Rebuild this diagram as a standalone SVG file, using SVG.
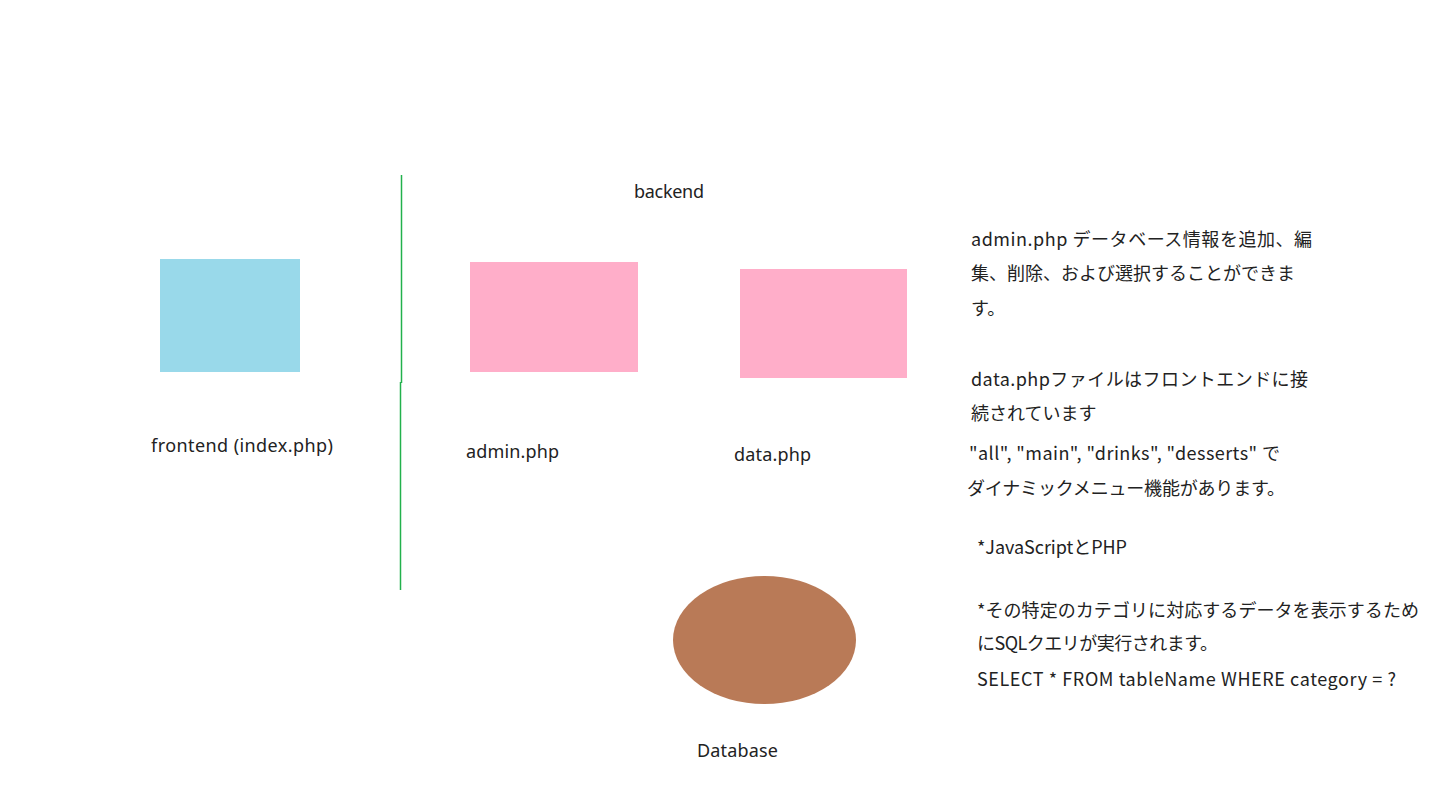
<svg xmlns="http://www.w3.org/2000/svg" width="1435" height="793" viewBox="0 0 1435 793">
<style>
text{font-family:"Noto Sans CJK JP","Noto Sans",sans-serif;font-size:18px;fill:#222}
.lbl{font-family:"Noto Sans","Noto Sans CJK JP",sans-serif}
.div{stroke:#22b14c;stroke-width:1.5;fill:none}
</style>
<rect width="1435" height="793" fill="#fff"/>
<g id="divider">
<line class="div" x1="401.5" y1="175" x2="401.5" y2="383"/>
<line class="div" x1="400.5" y1="382" x2="400.5" y2="590"/>
</g>
<g id="connectors"></g>
<g id="backend-label"><text class="lbl" x="634" y="198" textLength="70" lengthAdjust="spacing">backend</text></g>
<g id="frontend">
<rect x="160" y="259" width="140" height="113" fill="#99d9ea"/>
<text class="lbl" x="151" y="452" textLength="182" lengthAdjust="spacing">frontend (index.php)</text>
</g>
<g id="admin">
<rect x="470" y="262" width="168" height="110" fill="#ffaec9"/>
<text class="lbl" x="466" y="458" textLength="93" lengthAdjust="spacing">admin.php</text>
</g>
<g id="data">
<rect x="740" y="269" width="167" height="109" fill="#ffaec9"/>
<text class="lbl" x="734" y="461" textLength="77" lengthAdjust="spacing">data.php</text>
</g>
<g id="database">
<ellipse cx="764.5" cy="640" rx="91.5" ry="64" fill="#b97a57"/>
<text class="lbl" x="697" y="757" textLength="81" lengthAdjust="spacing">Database</text>
</g>
<g id="notes">
<text x="971" y="246" textLength="341" lengthAdjust="spacing">admin.php データベース情報を追加、編</text>
<text x="971" y="280" textLength="324" lengthAdjust="spacing">集、削除、および選択することができま</text>
<text x="971" y="315">す。</text>
<text x="971" y="386" textLength="337" lengthAdjust="spacing">data.phpファイルはフロントエンドに接</text>
<text x="971" y="420">続されています</text>
<text x="969" y="460" textLength="311" lengthAdjust="spacing">"all", "main", "drinks", "desserts" で</text>
<text x="967" y="495" textLength="318" lengthAdjust="spacing">ダイナミックメニュー機能があります。</text>
<text x="977" y="554" textLength="150" lengthAdjust="spacing">*JavaScriptとPHP</text>
<text x="977" y="617" textLength="442" lengthAdjust="spacing">*その特定のカテゴリに対応するデータを表示するため</text>
<text x="977" y="650" textLength="241" lengthAdjust="spacing">にSQLクエリが実行されます。</text>
<text x="977" y="686" textLength="419" lengthAdjust="spacing">SELECT * FROM tableName WHERE category = ?</text>
</g>
</svg>
